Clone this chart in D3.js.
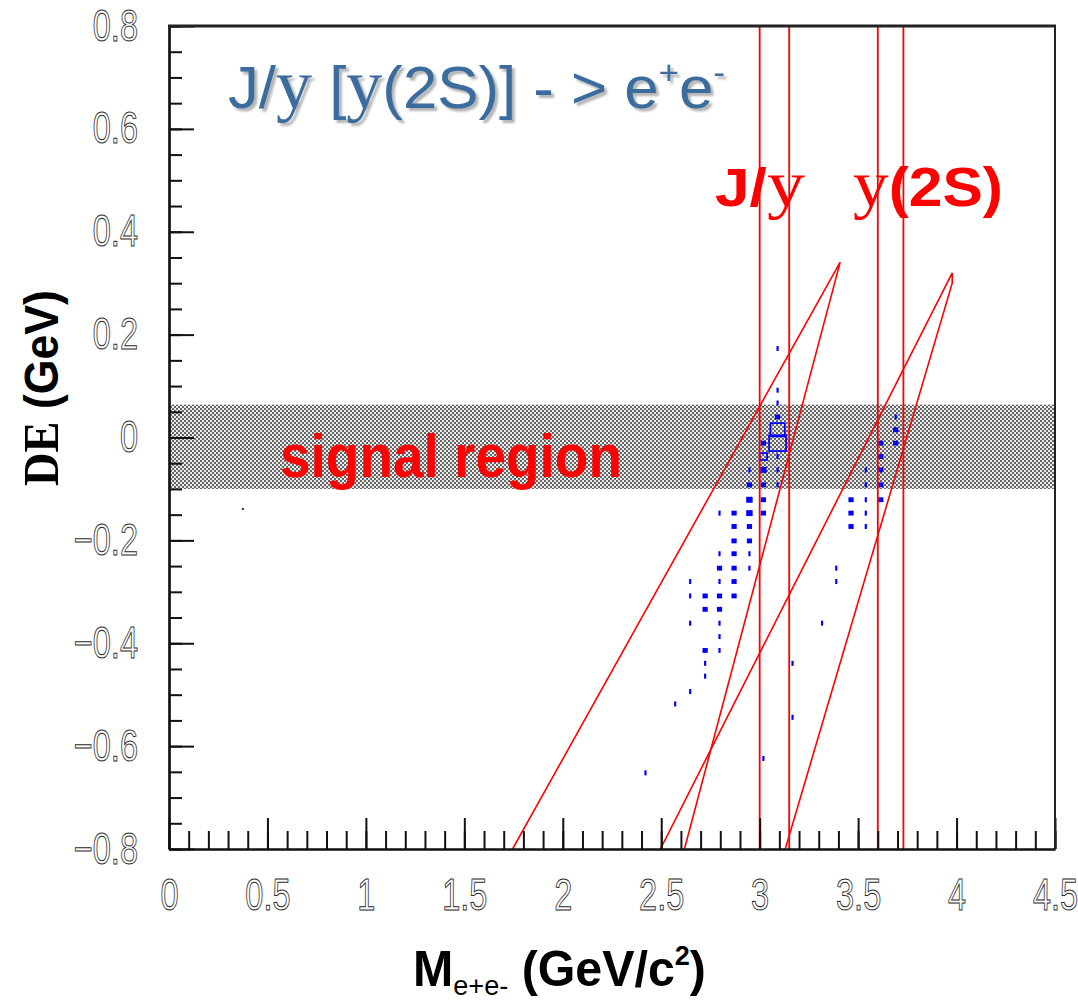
<!DOCTYPE html>
<html>
<head>
<meta charset="utf-8">
<script src="https://cdn.jsdelivr.net/npm/d3@7"></script>
<style>
  html, body { margin: 0; padding: 0; background: #fff; }
  svg { display: block; }
  text { white-space: pre; }
</style>
</head>
<body>
<svg id="chart" width="1078" height="1002"></svg>
<script>
// ---- axis ranges and ticks ----
const xDomain = [0, 4.5];
const yDomain = [-0.8, 0.8];
const xMajorTicks = [0, 0.5, 1, 1.5, 2, 2.5, 3, 3.5, 4, 4.5];
const yMajorTicks = [-0.8, -0.6, -0.4, -0.2, 0, 0.2, 0.4, 0.6, 0.8];
const xMinorTicks = d3.range(0, 4.5001, 0.1);
const yMinorTicks = d3.range(-0.8, 0.8001, 0.05);

// ---- selection windows ----
const signalBand = [-0.1, 0.064];          // ΔE signal region (GeV)
const jpsiWindow = [3.00, 3.15];           // J/ψ mass window (GeV/c²)
const psi2sWindow = [3.60, 3.73];          // ψ(2S) mass window (GeV/c²)

// kinematic boundaries in (M, ΔE)
const jpsiBoundary = [[1.745, -0.8], [3.409, 0.341], [2.618, -0.8]];
const psi2sBoundary = [[2.496, -0.8], [3.978, 0.320], [3.978, 0.300], [3.130, -0.8]];

// ---- e+e- candidates: [M, ΔE, entries] per 2D bin ----
const binWidth = 0.075;
const binHeight = 0.0267;
const eeCandidates = [
  [3.091, 0.173, 1], [3.091, 0.092, 1], [3.091, 0.067, 1], [3.091, 0.040, 2],
  [3.091, 0.015, 15], [3.091, -0.011, 24], [3.019, -0.011, 2],
  [3.019, -0.037, 4], [3.091, -0.037, 1],
  [2.948, -0.063, 1], [3.019, -0.063, 3], [3.091, -0.063, 1],
  [2.948, -0.092, 2], [3.019, -0.092, 2], [3.091, -0.092, 1],
  [2.948, -0.121, 3], [3.019, -0.121, 2],
  [2.796, -0.147, 1], [2.870, -0.147, 2], [2.948, -0.147, 3], [3.019, -0.147, 2],
  [2.870, -0.173, 2], [2.948, -0.173, 2],
  [2.870, -0.201, 2], [2.948, -0.201, 2],
  [2.796, -0.226, 1], [2.870, -0.226, 2], [2.948, -0.226, 1],
  [2.796, -0.254, 2], [2.870, -0.254, 2], [2.948, -0.254, 1],
  [2.647, -0.280, 1], [2.796, -0.280, 1], [2.870, -0.280, 2],
  [2.647, -0.308, 1], [2.723, -0.308, 2], [2.796, -0.308, 2], [2.870, -0.308, 2],
  [2.723, -0.334, 2], [2.796, -0.334, 2],
  [2.647, -0.361, 1], [2.796, -0.361, 1],
  [2.796, -0.387, 1],
  [2.723, -0.414, 2], [2.796, -0.414, 1],
  [2.723, -0.439, 1], [3.167, -0.439, 1],
  [2.723, -0.464, 1],
  [2.647, -0.494, 1],
  [2.571, -0.518, 1],
  [3.167, -0.544, 1],
  [3.019, -0.624, 1],
  [2.420, -0.652, 1],
  [3.691, 0.040, 1], [3.691, 0.015, 2], [3.691, -0.011, 2],
  [3.615, -0.011, 2], [3.615, -0.037, 2], [3.615, -0.063, 2], [3.615, -0.092, 2], [3.615, -0.121, 2],
  [3.539, -0.063, 1], [3.539, -0.092, 1], [3.539, -0.121, 1], [3.539, -0.147, 1], [3.539, -0.173, 1],
  [3.464, -0.121, 2], [3.464, -0.147, 2], [3.464, -0.173, 2],
  [3.389, -0.254, 1], [3.389, -0.280, 1],
  [3.317, -0.361, 1]
];
const strayEntries = [[0.375, -0.139]];

// ---- layout ----
const svg = d3.select("#chart");
const x = d3.scaleLinear().domain(xDomain).range([169, 1055]);
const y = d3.scaleLinear().domain(yDomain).range([849, 26]);
const sans = "'Liberation Sans', Arial, sans-serif";
const serif = "'Liberation Serif', 'Times New Roman', serif";
const RED = "#ff0000";

const defs = svg.append("defs");
defs.append("clipPath").attr("id", "plotClip")
  .append("rect").attr("x", x(0)).attr("y", y(0.8))
  .attr("width", x(4.5) - x(0)).attr("height", y(-0.8) - y(0.8));

// halftone fill of the signal band
const pat = defs.append("pattern").attr("id", "dots")
  .attr("width", 4).attr("height", 4).attr("patternUnits", "userSpaceOnUse");
pat.append("rect").attr("width", 4).attr("height", 4).attr("fill", "#ececec");
pat.append("circle").attr("cx", 1).attr("cy", 1).attr("r", 0.88).attr("fill", "#222");
pat.append("circle").attr("cx", 3).attr("cy", 3).attr("r", 0.88).attr("fill", "#222");

const plot = svg.append("g").attr("clip-path", "url(#plotClip)");

plot.append("rect")
  .attr("x", x(0)).attr("width", x(4.5) - x(0))
  .attr("y", y(signalBand[1])).attr("height", y(signalBand[0]) - y(signalBand[1]))
  .attr("fill", "url(#dots)");

// candidate boxes, side ~ sqrt(entries)
const sizeRef = 16;
const cellW = x(binWidth) - x(0);
const cellH = y(0) - y(binHeight);
plot.append("g").selectAll("rect").data(eeCandidates).join("rect")
  .each(function (d) {
    const s = Math.min(Math.sqrt(d[2] / sizeRef), 1.15);
    const hollow = cellW * s > 7;
    let w = cellW * s, h = cellH * s;
    if (d[2] === 1) { w = 2.2; h = 5; }
    d3.select(this)
      .attr("x", x(d[0]) - w / 2).attr("y", y(d[1]) - h / 2)
      .attr("width", w).attr("height", h)
      .attr("fill", hollow ? "none" : "#0000ff")
      .attr("stroke", hollow ? "#0000ff" : "none")
      .attr("stroke-width", 1.7);
  });

plot.append("g").selectAll("rect").data(strayEntries).join("rect")
  .attr("x", d => x(d[0]) - 1).attr("y", d => y(d[1]) - 0.8)
  .attr("width", 2).attr("height", 1.6).attr("fill", "#000");

// kinematic boundaries
const line = d3.line().x(d => x(d[0])).y(d => y(d[1]));
[jpsiBoundary, psi2sBoundary].forEach(b => {
  plot.append("path").attr("d", line(b))
    .attr("fill", "none").attr("stroke", RED).attr("stroke-width", 1.6);
});

// mass windows
plot.append("g").selectAll("line").data([...jpsiWindow, ...psi2sWindow]).join("line")
  .attr("x1", d => x(d)).attr("x2", d => x(d))
  .attr("y1", y(0.8)).attr("y2", y(-0.8))
  .attr("stroke", RED).attr("stroke-width", 1.8);

// ---- axes ----
function styleAxis(g) {
  g.selectAll("path.domain").attr("stroke", "#111").attr("stroke-width", 2.2);
  g.selectAll(".tick line").attr("stroke", "#111").attr("stroke-width", 2);
}
const tickFmt = d => (d === 0 ? "0" : d3.format("~g")(d)).replace("-", "\u2212");

const yMinorG = svg.append("g").attr("transform", `translate(${x(0)},0)`)
  .call(d3.axisLeft(y).tickValues(yMinorTicks).tickSizeInner(-13).tickSizeOuter(0).tickFormat(""));
styleAxis(yMinorG);
const yAxisG = svg.append("g").attr("transform", `translate(${x(0)},0)`)
  .call(d3.axisLeft(y).tickValues(yMajorTicks).tickSizeInner(-25).tickSizeOuter(0)
    .tickPadding(31).tickFormat(tickFmt));
styleAxis(yAxisG);

const xMinorG = svg.append("g").attr("transform", `translate(0,${y(-0.8)})`)
  .call(d3.axisBottom(x).tickValues(xMinorTicks).tickSizeInner(-18).tickSizeOuter(0).tickFormat(""));
styleAxis(xMinorG);
const xAxisG = svg.append("g").attr("transform", `translate(0,${y(-0.8)})`)
  .call(d3.axisBottom(x).tickValues(xMajorTicks).tickSizeInner(-31).tickSizeOuter(0)
    .tickPadding(30).tickFormat(tickFmt));
styleAxis(xAxisG);

const labelScale = 0.74;
[yAxisG, xAxisG].forEach(g => {
  g.selectAll(".tick text")
    .attr("font-family", sans).attr("font-size", 44)
    .attr("fill", "#fff").attr("stroke", "#2a2a2a").attr("stroke-width", 1.0);
});
yAxisG.selectAll(".tick text")
  .attr("x", -31 / labelScale).attr("transform", `scale(${labelScale},1)`);
xAxisG.selectAll(".tick text").attr("transform", `scale(${labelScale},1)`);

// frame top and right
svg.append("line").attr("x1", x(0) - 1).attr("x2", x(4.5) + 1)
  .attr("y1", y(0.8)).attr("y2", y(0.8)).attr("stroke", "#222").attr("stroke-width", 3);
svg.append("line").attr("x1", x(4.5)).attr("x2", x(4.5))
  .attr("y1", y(0.8)).attr("y2", y(-0.8)).attr("stroke", "#222").attr("stroke-width", 2);

// ---- text ----
function richText(parent, parts, o) {
  const t = parent.append("text").attr("fill", o.fill).attr("font-weight", o.weight || "normal");
  parts.forEach(p => t.append("tspan")
    .attr("font-family", p.serif ? serif : sans)
    .attr("font-size", p.size)
    .attr("font-weight", p.weight || null)
    .attr("dy", p.dy || 0)
    .text(p.t));
  const sx = o.width / t.node().getComputedTextLength();
  t.attr("transform", `translate(${o.x},${o.y})${o.rotate ? ` rotate(${o.rotate})` : ""} scale(${sx},1)`);
  return t;
}

const titleParts = [
  { t: "J/", size: 60 },
  { t: "y", size: 70, serif: true },
  { t: " [", size: 60 },
  { t: "y", size: 70, serif: true },
  { t: "(2S)]", size: 60 },
  { t: " - > e", size: 60 },
  { t: "+", size: 34, dy: -24 },
  { t: "e", size: 60, dy: 24 },
  { t: "-", size: 34, dy: -24 }
];
richText(svg, titleParts, { x: 231, y: 111, width: 497, fill: "#b4b4b4" })
  .style("filter", "blur(0.8px)");
richText(svg, titleParts, { x: 228, y: 108, width: 497, fill: "#3b6c9e" });

richText(svg, [
  { t: "J/", size: 54, weight: "bold" },
  { t: "y", size: 66, serif: true }
], { x: 715, y: 206, width: 90, fill: RED });

richText(svg, [
  { t: "y", size: 66, serif: true },
  { t: "(2S)", size: 56, weight: "bold" }
], { x: 853, y: 206, width: 150, fill: RED });

richText(svg, [{ t: "signal region", size: 62, weight: "bold" }],
  { x: 280, y: 477, width: 342, fill: RED });

richText(svg, [
  { t: "DE", size: 50, serif: true, weight: "bold" },
  { t: " (GeV)", size: 48, weight: "bold" }
], { x: 58, y: 486, width: 196, fill: "#000", rotate: -90 });

richText(svg, [
  { t: "M", size: 50, weight: "bold" },
  { t: "e+e-", size: 28, dy: 9 },
  { t: " (GeV/c", size: 50, weight: "bold", dy: -9 },
  { t: "2", size: 28, weight: "bold", dy: -21 },
  { t: ")", size: 50, weight: "bold", dy: 21 }
], { x: 413, y: 986, width: 293, fill: "#000" });
</script>
</body>
</html>
